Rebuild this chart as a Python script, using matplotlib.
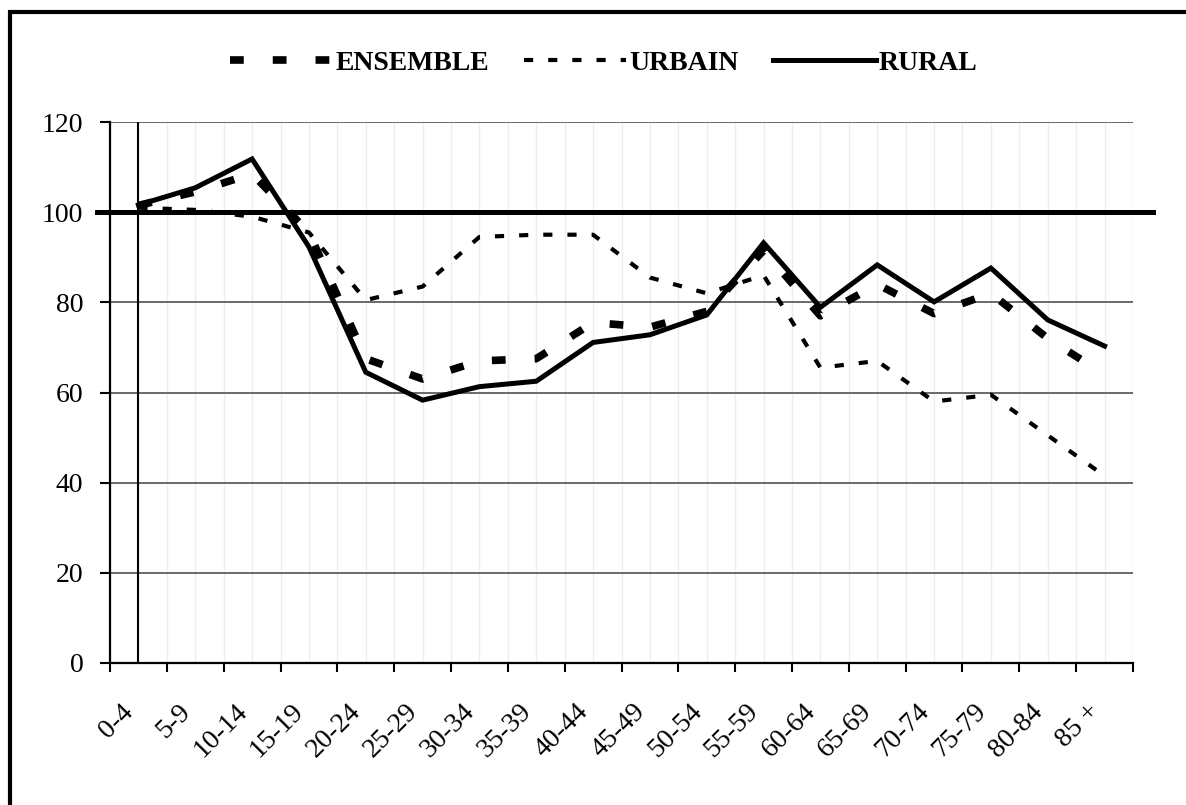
import numpy as np
from matplotlib import pyplot as plt
from matplotlib.patches import Rectangle

# classes d'age
ages = ["0-4", "5-9", "10-14", "15-19", "20-24", "25-29", "30-34", "35-39", "40-44",
        "45-49", "50-54", "55-59", "60-64", "65-69", "70-74", "75-79", "80-84", "85 +"]

# valeurs
ensemble = [101.5, 104.5, 108.5, 95.5, 67.5, 63.0, 67.0, 67.5, 75.5,
            74.5, 78.0, 91.5, 77.0, 84.0, 77.5, 82.0, 72.0, 64.0]
urbain = [101.0, 100.5, 99.0, 95.5, 80.5, 83.5, 94.5, 95.0, 95.0,
          85.5, 82.0, 86.0, 65.5, 67.0, 58.0, 59.5, 50.5, 41.5]
rural = [101.6, 105.4, 111.8, 92.3, 64.5, 58.3, 61.3, 62.5, 71.1,
         72.8, 77.2, 93.2, 78.9, 88.3, 80.1, 87.6, 76.1, 70.3]

plt.rcParams['font.family'] = ['Liberation Serif', 'DejaVu Serif']

fig = plt.figure(figsize=(11.86, 8.05), dpi=100)
ax = fig.add_axes([110/1186, 1-663/805, 1023/1186, 541/805])

x = np.arange(len(ages))

ax.plot(x, ensemble, color='black', lw=5.5, dashes=(1.8, 3.8),
        dash_capstyle='butt', label='ENSEMBLE')
ax.plot(x, urbain, color='black', lw=3.0, dashes=(2.2, 3.6),
        dash_capstyle='butt', label='URBAIN')
ax.plot(x, rural, color='black', lw=3.6, solid_joinstyle='miter',
        label='RURAL')

# ligne de reference 100 et trait vertical
ax.axhline(100, xmin=(97-110)/1023, xmax=(1153-110)/1023, color='black',
           lw=3.6, clip_on=False, zorder=4)
ax.axvline(0, color='black', lw=1.5, zorder=4)

ax.set_xlim(-0.5, len(ages)-0.5)
ax.set_ylim(0, 120)
ax.set_yticks(np.arange(0, 121, 20))
ax.set_xticks(x)
ax.set_xticks(np.arange(-0.5, len(ages), 1.0), minor=True)
ax.set_xticklabels(ages, rotation=45, ha='right', fontsize=20)
ax.tick_params(axis='x', which='major', length=0, pad=26)
ax.tick_params(axis='x', which='minor', length=6.5, width=1.5, direction='out')
ax.tick_params(axis='y', length=7.2, width=1.5, direction='out', pad=12,
               labelsize=20)

ax.grid(axis='y', color='#5e5e5e', lw=1.3)
ax.grid(axis='x', which='both', color='#ededed', lw=1.0)
ax.set_axisbelow(True)

for s in ['top', 'right']:
    ax.spines[s].set_visible(False)
for s in ['left', 'bottom']:
    ax.spines[s].set_linewidth(1.6)

fig.legend(loc='center', bbox_to_anchor=(0.509, 1-63/805), ncol=3,
           frameon=False, handlelength=3.7, handletextpad=0.1,
           columnspacing=1.25, prop={'weight': 'bold', 'size': 20})

# cadre
fig.add_artist(Rectangle((10/1186, -0.1), 1.2, 1.1-12/805, transform=fig.transFigure,
                         fill=False, lw=3, ec='black'))

plt.savefig('out.png')
